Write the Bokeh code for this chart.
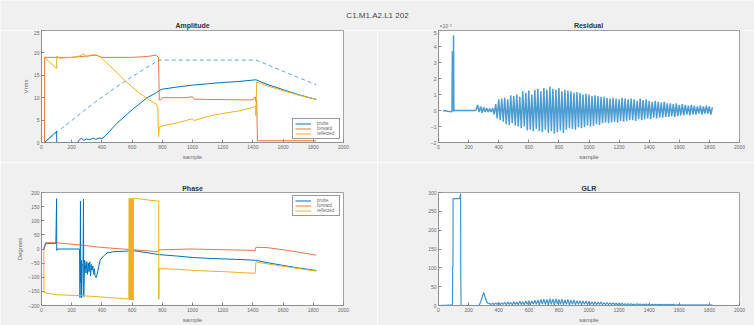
import numpy as np
from bokeh.plotting import figure
from bokeh.layouts import column, row
from bokeh.models import Range1d, Label, Legend, LegendItem, FixedTicker
from bokeh.embed import file_html
from bokeh.resources import INLINE

# ---------------- data ----------------
suptitle = "C1.M1.A2.L1 202"
x_ticks = list(range(0, 2001, 200))

# Amplitude (Vrms)
amp_probe_x = [0, 20, 100, 101, 240, 250, 265, 280, 300, 320, 340, 360, 380, 400, 420, 500, 600, 700, 760, 780, 800, 900, 1000, 1100, 1200, 1300, 1420, 1500, 1600, 1700, 1820]
amp_probe_y = [0, 0, 2.5, 0, 0, 0.6, 0.9, 0.5, 0.8, 0.6, 1.0, 0.7, 1.0, 0.9, 1.4, 4.3, 7.3, 10.0, 11.1, 11.6, 11.9, 12.4, 12.8, 13.1, 13.4, 13.6, 14.0, 12.9, 11.8, 10.7, 9.6]
amp_dash_x = [20, 100, 200, 300, 400, 500, 600, 700, 780, 1000, 1200, 1420, 1500, 1600, 1700, 1820]
amp_dash_y = [0, 2.3, 4.9, 7.6, 10.1, 12.5, 14.7, 16.8, 18.4, 18.4, 18.4, 18.4, 17.3, 15.9, 14.5, 12.9]
amp_fwd_x = [0, 20, 21, 100, 200, 300, 360, 400, 500, 600, 700, 760, 775, 780, 790, 800, 950, 1000, 1010, 1100, 1400, 1415, 1420, 1425, 1430, 1820]
amp_fwd_y = [0, 0, 19.0, 19.0, 19.0, 19.3, 19.5, 19.0, 19.0, 19.0, 19.2, 19.5, 19.0, 9.5, 9.5, 10.0, 10.0, 10.2, 9.7, 9.6, 9.5, 10.2, 9.2, 9.5, 0.4, 0.4]
amp_refl_x = [20, 100, 101, 120, 200, 250, 280, 300, 320, 360, 380, 400, 450, 500, 550, 600, 650, 700, 760, 770, 775, 780, 800, 900, 1000, 1010, 1100, 1200, 1300, 1400, 1418, 1420, 1425, 1500, 1600, 1700, 1820]
amp_refl_y = [19.0, 16.5, 19.3, 18.8, 19.0, 19.3, 19.8, 19.0, 19.5, 19.6, 19.3, 18.8, 17.2, 15.6, 13.9, 12.4, 11.0, 9.8, 8.6, 7.8, 1.3, 3.4, 3.7, 4.4, 5.3, 4.9, 5.8, 6.5, 7.0, 7.8, 8.2, 6.0, 13.5, 12.6, 11.6, 10.6, 9.6]

# Residual (x1e-3)
res_head_x = [30, 60, 88, 90, 92, 94, 96, 98, 100, 102, 106, 150, 200, 245]
res_head_y = [0, -0.05, -0.08, 0, 3.7, 0.05, 0, 0, 4.7, -0.05, 0, 0, 0, 0]
res_body = [
    0.05, 0.35, -0.1, 0.25, -0.15, 0.2, -0.1, 0.15, -0.1, 0.12,
    -0.1, 0.15, -0.25, 0.4, -0.5, 0.7, -0.6, 0.75, -0.7, 0.8,
    -0.85, 0.7, -0.9, 0.95, -0.8, 0.9, -0.95, 1.0, -1.0, 0.85,
    -1.1, 1.2, -1.0, 1.1, -1.25, 1.25, -1.2, 1.0, -1.3, 1.3,
    -1.15, 1.35, -1.3, 1.2, -1.35, 1.4, -1.2, 1.3, -1.4, 1.5,
    -1.3, 1.35, -1.45, 1.3, -1.35, 1.4, -1.25, 1.2, -1.4, 1.3,
    -1.2, 1.25, -1.1, 1.2, -1.15, 1.1, -1.2, 1.15, -1.05, 1.1,
    -1.1, 1.0, -1.05, 1.05, -0.95, 1.0, -1.0, 0.9, -0.95, 0.95,
    -0.85, 0.9, -0.9, 0.85, -0.8, 0.85, -0.75, 0.8, -0.8, 0.75,
    -0.75, 0.8, -0.7, 0.75, -0.75, 0.7, -0.65, 0.8, -0.7, 0.75,
    -0.65, 0.7, -0.6, 0.75, -0.6, 0.7, -0.65, 0.6, -0.55, 0.75,
    -0.6, 0.65, -0.55, 0.7, -0.5, 0.6, -0.55, 0.55, -0.45, 0.6,
    -0.5, 0.55, -0.45, 0.5, -0.45, 0.55, -0.4, 0.45, -0.4, 0.45,
    -0.35, 0.4, -0.4, 0.45, -0.35, 0.35, -0.3, 0.4, -0.3, 0.35,
    -0.25, 0.3, -0.3, 0.35, -0.25, 0.3, -0.25, 0.25, -0.2, 0.3,
    -0.25, 0.25, -0.2, 0.3, -0.2, 0.25, -0.25, 0.2,
]
res_body_x = list(range(250, 250 + 10 * len(res_body), 10))

# Phase (degrees)
ph_probe_x = [15, 30, 95, 100, 101, 105, 250, 252, 255, 258, 260, 263, 266, 270, 275, 278, 280, 283, 286, 290, 295, 300, 305, 310, 315, 320, 325, 330, 335, 340, 345, 350, 355, 362, 370, 380, 390, 410, 434, 470, 500, 550, 611, 700, 780, 900, 1000, 1100, 1200, 1300, 1420, 1500, 1600, 1700, 1820]
ph_probe_y = [0, 20, 20, 178, -5, 0, 0, -10, -172, 170, -120, -40, -172, -60, -50, 176, -168, -100, -40, -55, -85, -45, -90, -50, -80, -45, -95, -55, -75, -60, -90, -70, -95, -101, -85, -60, -38, -25, -14, -10, -9, -8, -6, -13, -20, -25, -30, -33, -35, -37, -40, -49, -58, -67, -76]
ph_fwd_x = [15, 26, 104, 258, 390, 611, 765, 780, 986, 1415, 1420, 1493, 1603, 1700, 1820]
ph_fwd_y = [0, 22, 22, 14, 6, -3, -9, -3, 0, -5, 6, 5, -3, -11, -22]
ph_refl_x = [15, 16, 104, 258, 400, 500, 578, 581, 583, 585, 587, 589, 591, 593, 595, 597, 599, 601, 603, 605, 607, 609, 611, 700, 776, 777, 780, 900, 986, 1100, 1200, 1300, 1415, 1420, 1500, 1600, 1700, 1820]
ph_refl_y = [0, -154, -162, -165, -170, -174, -177, 179, -180, 178, -179, 179, -180, 177, -179, 179, -180, 178, -179, 179, -180, 179, 180, 174, 169, -178, -69, -72, -75, -78, -80, -83, -86, -46, -53, -61, -69, -78]

# GLR
glr_head_x = [0, 60, 93, 94, 96, 97, 140, 145, 147, 148, 150, 270, 285, 300, 310, 320, 330]
glr_head_y = [0, 1, 2, 102, 104, 284, 284, 292, 297, 80, 0, 0, 15, 35, 22, 10, 6]
glr_body = [
    5, 3, 6, 2, 7, 3, 8, 2, 7, 3,
    8, 2, 9, 3, 8, 2, 10, 3, 9, 2,
    11, 3, 10, 2, 12, 3, 13, 2, 12, 4,
    14, 3, 15, 2, 16, 4, 17, 3, 16, 2,
    18, 3, 17, 2, 18, 4, 16, 3, 17, 2,
    15, 3, 16, 2, 14, 3, 15, 2, 13, 3,
    13, 2, 12, 3, 12, 2, 11, 3, 10, 2,
    10, 2, 9, 3, 9, 2, 8, 2, 8, 2,
    7, 2, 7, 2, 6, 2, 6, 2, 6, 1,
    5, 2, 5, 1, 5, 2, 4, 1, 5, 2,
    4, 1, 4, 2, 4, 1, 4, 1, 3, 1,
    3, 1, 3, 2, 3, 1, 3, 1, 3, 1,
    3, 1, 3, 1, 2, 1, 3, 1, 2, 1,
    2, 1, 2, 1, 2, 1, 2, 1, 2, 1,
    2, 1, 2, 1, 2, 1, 2, 1, 2,
]
glr_body_x = list(range(340, 340 + 10 * len(glr_body), 10))

# ---------------- style ----------------
BG = "#f0f0f0"
BLUE = "#0072BD"
ORANGE = "#D95319"
YELLOW = "#EDB120"
FONT = "Liberation Sans"
AX = "#8a8a8a"
TXT = "#6a6a6a"


def make_fig(w, h, left, right, top, bottom, yr, yticks, title, ylabel=None):
    p = figure(width=w, height=h, x_range=Range1d(0, 2000), y_range=Range1d(*yr),
               toolbar_location=None, output_backend="svg",
               min_border_left=left, min_border_right=right,
               min_border_top=top, min_border_bottom=bottom)
    p.background_fill_color = "white"
    p.border_fill_color = BG
    p.outline_line_color = AX
    p.outline_line_width = 0.8
    p.grid.visible = False
    if title:
        p.title.text = title
        p.title.align = "center"
        p.title.text_font = FONT
        p.title.text_font_size = "7px"
        p.title.text_font_style = "bold"
        p.title.text_color = "#333333"
        p.title.standoff = 1
        p.title.offset = 0
    for ax in (p.xaxis[0], p.yaxis[0]):
        ax.axis_line_color = AX
        ax.axis_line_width = 0.8
        ax.major_tick_line_color = AX
        ax.major_tick_in = 3
        ax.major_tick_out = 0
        ax.minor_tick_line_color = None
        ax.major_label_text_font = FONT
        ax.major_label_text_font_size = "5px"
        ax.major_label_text_color = TXT
        ax.major_label_standoff = 2
        ax.axis_label_text_font = FONT
        ax.axis_label_text_font_size = "6px"
        ax.axis_label_text_font_style = "normal"
        ax.axis_label_text_color = TXT
        ax.axis_label_standoff = 2
    p.xaxis.ticker = FixedTicker(ticks=x_ticks)
    p.yaxis.ticker = FixedTicker(ticks=yticks)
    p.xaxis.axis_label = "sample"
    if ylabel:
        p.yaxis.axis_label = ylabel
    return p


def style_legend(p, items, loc):
    lg = Legend(items=items, location=loc)
    lg.border_line_color = "#333333"
    lg.border_line_width = 0.8
    lg.background_fill_color = "white"
    lg.background_fill_alpha = 1
    lg.label_text_font = FONT
    lg.label_text_font_size = "4.5px"
    lg.label_text_color = TXT
    lg.glyph_width = 16
    lg.glyph_height = 5
    lg.label_height = 5
    lg.label_standoff = 6
    lg.padding = 2
    lg.spacing = 0
    lg.margin = 3
    p.add_layout(lg)


# header (figure title, top subplot titles, exponent label)
head = figure(width=754, height=30, x_range=Range1d(0, 754), y_range=Range1d(0, 30),
              toolbar_location=None, output_backend="svg", min_border=0)
head.axis.visible = False
head.grid.visible = False
head.outline_line_color = None
head.background_fill_color = BG
head.border_fill_color = BG
head.add_layout(Label(x=377, y=15, text=suptitle, text_align="center", text_baseline="middle",
                      text_font=FONT, text_font_size="8px", text_color="#444444"))
head.add_layout(Label(x=192, y=1.5, text="Amplitude", text_align="center", text_baseline="bottom",
                      text_font=FONT, text_font_size="7px", text_font_style="bold", text_color="#333333"))
head.add_layout(Label(x=588, y=1.5, text="Residual", text_align="center", text_baseline="bottom",
                      text_font=FONT, text_font_size="7px", text_font_style="bold", text_color="#333333"))
head.add_layout(Label(x=439, y=1.5, text="×10⁻³", text_align="left", text_baseline="bottom",
                      text_font=FONT, text_font_size="5px", text_color=TXT))

# Amplitude
p1 = make_fig(377, 132, 41, 34, 0, 16, (0, 25), [0, 5, 10, 15, 20, 25], None, "Vrms")
p1.line(amp_dash_x, amp_dash_y, color=BLUE, line_width=0.8, line_dash="4 3", line_alpha=0.8)
r1 = p1.line(amp_probe_x, amp_probe_y, color=BLUE, line_width=1)
r2 = p1.line(amp_fwd_x, amp_fwd_y, color=ORANGE, line_width=0.8)
r3 = p1.line(amp_refl_x, amp_refl_y, color=YELLOW, line_width=1)
style_legend(p1, [LegendItem(label="probe", renderers=[r1]),
                  LegendItem(label="forward", renderers=[r2]),
                  LegendItem(label="reflected", renderers=[r3])], "bottom_right")

# Residual
p2 = make_fig(377, 132, 61, 15, 0, 16, (-2, 5), list(range(-2, 6)), None)
p2.line(res_head_x + res_body_x, res_head_y + res_body, color=BLUE, line_width=1.5, line_alpha=0.7)

# Phase
p3 = make_fig(377, 163, 41, 34, 30, 18, (-200, 200), list(range(-200, 201, 50)), "Phase", "Degrees")
q1 = p3.line(ph_probe_x, ph_probe_y, color=BLUE, line_width=1)
q2 = p3.line(ph_fwd_x, ph_fwd_y, color=ORANGE, line_width=0.8)
q3 = p3.line(ph_refl_x, ph_refl_y, color=YELLOW, line_width=1)
style_legend(p3, [LegendItem(label="probe", renderers=[q1]),
                  LegendItem(label="forward", renderers=[q2]),
                  LegendItem(label="reflected", renderers=[q3])], "top_right")

# GLR
p4 = make_fig(377, 163, 61, 15, 30, 18, (0, 300), list(range(0, 301, 50)), "GLR")
p4.line(glr_head_x + glr_body_x, glr_head_y + glr_body, color=BLUE, line_width=1.2, line_alpha=0.75)

layout = column(head, row(p1, p2), row(p3, p4))
open("out.html", "w").write(file_html(layout, INLINE))
